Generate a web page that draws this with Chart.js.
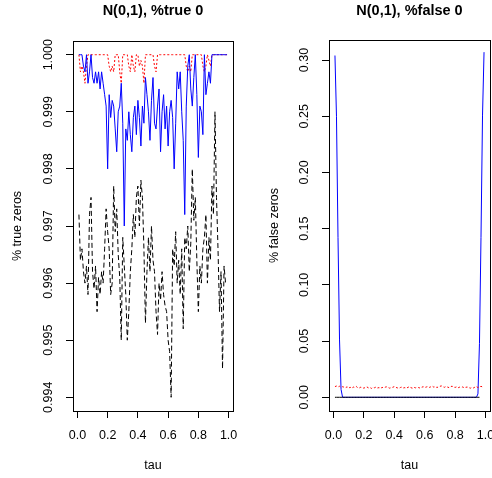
<!DOCTYPE html>
<html>
<head>
<meta charset="utf-8">
<title>N(0,1) true / false zeros</title>
<script src="https://cdn.jsdelivr.net/npm/chart.js"></script>
<style>
  body { margin: 0; background: #fff; }
  #wrap { position: relative; width: 492px; height: 478px; }
  .panel { position: absolute; top: 0; width: 246px; height: 478px; }
</style>
</head>
<body>
<div id="wrap">
  <div class="panel" style="left:0"><canvas id="trueChart" width="246" height="478"></canvas></div>
  <div class="panel" style="left:246px"><canvas id="falseChart" width="246" height="478"></canvas></div>
</div>
<script>
// tau grid (x values)
const tau = [
  0.01,0.02,0.03,0.04,0.05,0.06,0.07,0.08,0.09,0.10,
  0.11,0.12,0.13,0.14,0.15,0.16,0.17,0.18,0.19,0.20,
  0.21,0.22,0.23,0.24,0.25,0.26,0.27,0.28,0.29,0.30,
  0.31,0.32,0.33,0.34,0.35,0.36,0.37,0.38,0.39,0.40,
  0.41,0.42,0.43,0.44,0.45,0.46,0.47,0.48,0.49,0.50,
  0.51,0.52,0.53,0.54,0.55,0.56,0.57,0.58,0.59,0.60,
  0.61,0.62,0.63,0.64,0.65,0.66,0.67,0.68,0.69,0.70,
  0.71,0.72,0.73,0.74,0.75,0.76,0.77,0.78,0.79,0.80,
  0.81,0.82,0.83,0.84,0.85,0.86,0.87,0.88,0.89,0.90,
  0.91,0.92,0.93,0.94,0.95,0.96,0.97,0.98,0.99
];

// left panel: % true zeros
const trueBlue = [
  1.0000,1.0000,1.0000,0.9998,0.9997,1.0000,0.9995,0.9997,1.0000,0.9996,
  0.9995,0.9997,0.9995,0.9997,0.9994,0.9997,0.9995,0.9993,0.9991,0.9980,
  0.9993,0.9989,0.9992,0.9991,0.9987,0.9983,0.9990,0.9991,0.9995,0.9988,
  0.9970,0.9987,0.9985,0.9990,0.9986,0.9983,0.9989,0.9991,0.9986,0.9992,
  0.9989,0.9984,0.9991,0.9988,0.9996,0.9993,0.9990,0.9985,0.9992,0.9996,
  0.9988,0.9987,0.9991,0.9994,0.9983,0.9990,0.9993,0.9987,0.9991,0.9984,
  0.9990,0.9992,0.9989,0.9980,0.9988,0.9997,0.9994,0.9997,0.9990,0.9985,
  0.9972,0.9991,0.9998,1.0000,0.9994,0.9991,0.9996,1.0000,0.9993,0.9982,
  0.9991,0.9990,0.9986,1.0000,0.9993,0.9995,0.9997,0.9995,1.0000,1.0000,
  1.0000,1.0000,1.0000,1.0000,1.0000,1.0000,1.0000,1.0000,1.0000
];
const trueRed = [
  1.0000,0.9997,0.9998,0.9997,0.9995,0.9998,1.0000,1.0000,1.0000,1.0000,
  1.0000,1.0000,1.0000,1.0000,1.0000,1.0000,1.0000,1.0000,1.0000,1.0000,
  0.9998,0.9997,0.9998,0.9997,1.0000,1.0000,1.0000,0.9997,0.9995,1.0000,
  1.0000,1.0000,1.0000,0.9998,0.9997,1.0000,0.9998,0.9997,1.0000,1.0000,
  0.9998,0.9999,0.9998,0.9995,1.0000,1.0000,1.0000,1.0000,1.0000,1.0000,
  0.9998,0.9997,1.0000,1.0000,1.0000,1.0000,1.0000,1.0000,1.0000,1.0000,
  1.0000,1.0000,1.0000,1.0000,1.0000,1.0000,1.0000,1.0000,1.0000,1.0000,
  1.0000,0.9998,0.9997,0.9998,0.9997,1.0000,1.0000,1.0000,1.0000,1.0000,
  1.0000,1.0000,0.9998,0.9997,0.9998,1.0000,0.9999,0.9998,1.0000,1.0000,
  1.0000,1.0000,1.0000,1.0000,1.0000,1.0000,1.0000,1.0000,1.0000
];
const trueBlack = [
  0.9972,0.9964,0.9966,0.9962,0.9960,0.9963,0.9958,0.9972,0.9975,0.9962,
  0.9959,0.9963,0.9955,0.9961,0.9958,0.9962,0.9960,0.9966,0.9973,0.9969,
  0.9966,0.9958,0.9960,0.9977,0.9969,0.9973,0.9965,0.9961,0.9950,0.9968,
  0.9963,0.9958,0.9950,0.9955,0.9962,0.9966,0.9972,0.9968,0.9975,0.9977,
  0.9970,0.9978,0.9975,0.9966,0.9953,0.9962,0.9968,0.9962,0.9970,0.9964,
  0.9962,0.9955,0.9951,0.9960,0.9957,0.9962,0.9958,0.9956,0.9955,0.9950,
  0.9948,0.9940,0.9966,0.9963,0.9969,0.9960,0.9964,0.9958,0.9966,0.9952,
  0.9968,0.9966,0.9970,0.9962,0.9967,0.9980,0.9971,0.9975,0.9964,0.9955,
  0.9963,0.9960,0.9966,0.9968,0.9972,0.9960,0.9968,0.9964,0.9977,0.9972,
  0.9990,0.9975,0.9966,0.9955,0.9962,0.9945,0.9963,0.9960,0.9960
];

// right panel: % false zeros
const falseBlue = [
  0.304,0.250,0.142,0.051,0.007,0,0,0,0,0,
  0,0,0,0,0,0,0,0,0,0,
  0,0,0,0,0,0,0,0,0,0,
  0,0,0,0,0,0,0,0,0,0,
  0,0,0,0,0,0,0,0,0,0,
  0,0,0,0,0,0,0,0,0,0,
  0,0,0,0,0,0,0,0,0,0,
  0,0,0,0,0,0,0,0,0,0,
  0,0,0,0,0,0,0,0,0,0,
  0,0,0,0,0.003,0.048,0.142,0.251,0.307
];
const falseRed = [
  0.0095,0.0100,0.0092,0.0098,0.0088,0.0094,0.0090,0.0086,0.0093,0.0082,
  0.0089,0.0080,0.0091,0.0087,0.0096,0.0085,0.0083,0.0090,0.0086,0.0081,
  0.0088,0.0092,0.0084,0.0087,0.0079,0.0089,0.0085,0.0091,0.0083,0.0086,
  0.0080,0.0088,0.0084,0.0090,0.0093,0.0087,0.0081,0.0086,0.0089,0.0095,
  0.0088,0.0084,0.0079,0.0087,0.0091,0.0083,0.0086,0.0080,0.0089,0.0093,
  0.0085,0.0081,0.0088,0.0084,0.0090,0.0086,0.0082,0.0089,0.0094,0.0087,
  0.0091,0.0096,0.0088,0.0093,0.0099,0.0090,0.0095,0.0087,0.0092,0.0098,
  0.0101,0.0093,0.0089,0.0096,0.0091,0.0086,0.0094,0.0099,0.0090,0.0088,
  0.0093,0.0085,0.0090,0.0087,0.0092,0.0084,0.0089,0.0091,0.0086,0.0081,
  0.0088,0.0083,0.0090,0.0095,0.0087,0.0092,0.0098,0.0091,0.0094
];
const falseBlack = [
  0,0,0,0,0,0,0,0,0,0,
  0,0,0,0,0,0,0,0,0,0,
  0,0,0,0,0,0,0,0,0,0,
  0,0,0,0,0,0,0,0,0,0,
  0,0,0,0,0,0,0,0,0,0,
  0,0,0,0,0,0,0,0,0,0,
  0,0,0,0,0,0,0,0,0,0,
  0,0,0,0,0,0,0,0,0,0,
  0,0,0,0,0,0,0,0,0,0,
  0,0,0,0,0,0,null,null,null
];

// axis ticks
const xTicks = [0, 0.2, 0.4, 0.6, 0.8, 1.0];
const trueTicks = [0.994, 0.995, 0.996, 0.997, 0.998, 0.999, 1.000];
const falseTicks = [0.00, 0.05, 0.10, 0.15, 0.20, 0.25, 0.30];

const FAMILY = '"Liberation Sans", Arial, sans-serif';
const tickFont = { family: FAMILY, size: 12.5 };
const labFont = { family: FAMILY, size: 12.5 };
const titleFont = { family: FAMILY, size: 14.5, weight: 'bold' };
const H = 478, W = 246, TICK = 7;
const DASHED = [5, 3], DOTTED = [2, 2];

function textWidth(str, font) {
  const c = document.createElement('canvas').getContext('2d');
  c.font = font.size + 'px ' + font.family;
  return c.measureText(str).width;
}

// R-style box around the plot region
const boxPlugin = {
  id: 'rbox',
  afterDraw(chart) {
    const a = chart.chartArea, ctx = chart.ctx;
    ctx.save();
    ctx.strokeStyle = '#000';
    ctx.lineWidth = 1;
    ctx.strokeRect(Math.round(a.left) + 0.5, Math.round(a.top) + 0.5,
      Math.round(a.right - a.left), Math.round(a.bottom - a.top));
    ctx.restore();
  }
};

function series(vals, color, dash) {
  return {
    data: tau.map((t, i) => ({ x: t, y: vals[i] })),
    borderColor: color,
    borderWidth: 1,
    borderDash: dash,
    pointRadius: 0,
    tension: 0,
    fill: false
  };
}

function makePanel(id, p) {
  const widest = Math.max(...p.yTicks.map(v => textWidth(v.toFixed(p.digits), tickFont)));
  const yPad = (p.area.left - p.yLabelX) - TICK - widest / 2;
  const titleLH = titleFont.size * 1.2;
  const grid = { drawOnChartArea: false, drawTicks: true, tickLength: TICK, color: '#000', lineWidth: 1 };
  new Chart(document.getElementById(id), {
    type: 'line',
    data: { datasets: p.datasets },
    plugins: [boxPlugin],
    options: {
      responsive: false,
      animation: false,
      events: [],
      layout: { padding: { left: 0, top: 0, right: W - p.area.right, bottom: 0 } },
      plugins: {
        legend: { display: false },
        tooltip: { enabled: false },
        title: {
          display: true, text: p.title, fullSize: false, color: '#000', font: titleFont,
          padding: { top: 2, bottom: p.area.top - 2 - titleLH }
        }
      },
      scales: {
        x: {
          type: 'linear',
          min: -0.0292, max: 1.0292,
          afterBuildTicks: s => { s.ticks = xTicks.map(v => ({ value: v })); },
          afterFit: s => { s.height = H - p.area.bottom; s.paddingLeft = 0; s.paddingRight = 0; },
          ticks: { autoSkip: false, maxRotation: 0, padding: 10, color: '#000', font: tickFont,
                   callback: v => v.toFixed(1) },
          grid: grid,
          border: { display: false },
          title: { display: true, text: 'tau', color: '#000', font: labFont, padding: { top: 0, bottom: 4.5 } }
        },
        y: {
          type: 'linear',
          min: p.yMin, max: p.yMax,
          afterBuildTicks: s => { s.ticks = p.yTicks.map(v => ({ value: v })); },
          afterFit: s => { s.width = p.area.left; s.paddingTop = 0; s.paddingBottom = 0; },
          ticks: { autoSkip: false, minRotation: 90, maxRotation: 90, crossAlign: 'center',
                   padding: yPad, color: '#000', font: tickFont,
                   callback: v => v.toFixed(p.digits) },
          grid: grid,
          border: { display: false },
          title: { display: true, text: p.yTitle, color: '#000', font: labFont,
                   padding: { top: p.yTitleX - 7.5, bottom: 0 } }
        }
      }
    }
  });
}

makePanel('trueChart', {
  title: 'N(0,1), %true 0',
  yTitle: '% true zeros',
  area: { left: 73, right: 233, top: 41, bottom: 411 },
  yMin: 0.99376, yMax: 1.00024,
  yTicks: trueTicks, digits: 3,
  yLabelX: 48.5, yTitleX: 18,
  datasets: [
    series(trueBlue, '#0000ff', []),
    series(trueRed, '#ff0000', DOTTED),
    series(trueBlack, '#000000', DASHED)
  ]
});

makePanel('falseChart', {
  title: 'N(0,1), %false 0',
  yTitle: '% false zeros',
  area: { left: 83, right: 244, top: 40, bottom: 411 },
  yMin: -0.0122, yMax: 0.3178,
  yTicks: falseTicks, digits: 2,
  yLabelX: 59, yTitleX: 29,
  datasets: [
    series(falseBlack, '#000000', []),
    series(falseRed, '#ff0000', DOTTED),
    series(falseBlue, '#0000ff', [])
  ]
});
</script>
</body>
</html>
